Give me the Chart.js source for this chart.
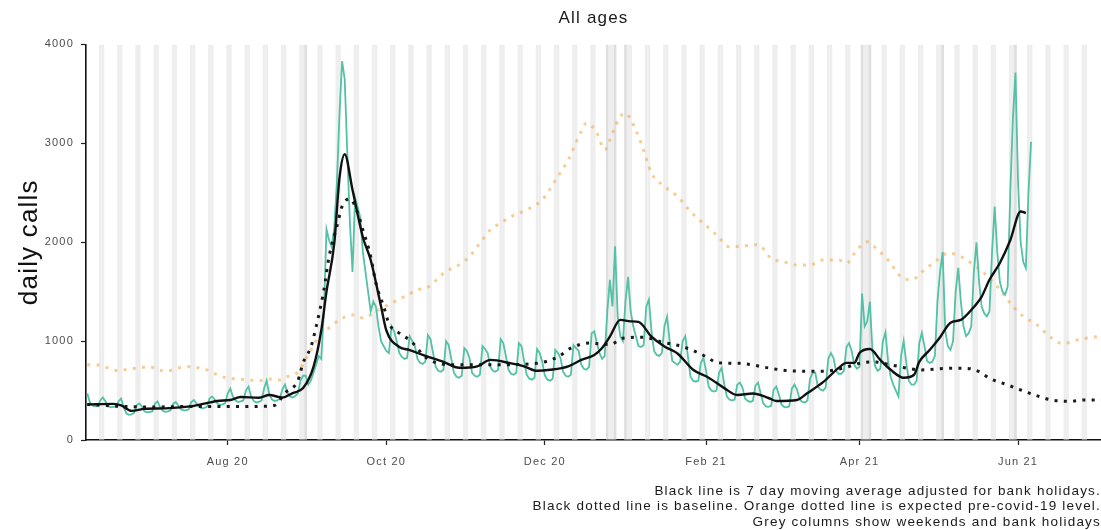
<!DOCTYPE html>
<html>
<head>
<meta charset="utf-8">
<title>All ages - daily calls</title>
<script src="https://cdn.jsdelivr.net/npm/chart.js@4.4.1/dist/chart.umd.min.js"></script>
<style>
    html, body { margin: 0; padding: 0; background: #fff; }
    #wrap { width: 1101px; height: 530px; }
</style>
</head>
<body>
<div id="wrap"><canvas id="callsChart" width="1101" height="530"></canvas></div>
<script>
// day 0 = Monday 8 June 2020, x axis counts days from there
const startDate = '2020-06-08';
const lastDay = 389.9;

const tickDates = ['2020-08-01', '2020-10-01', '2020-12-01', '2021-02-01', '2021-04-01', '2021-06-01'];
const tickLabels = ['Aug 20', 'Oct 20', 'Dec 20', 'Feb 21', 'Apr 21', 'Jun 21'];
const yTicks = [0, 1000, 2000, 3000, 4000];

const bankHolidays = ['2020-08-31', '2020-12-25', '2020-12-28', '2021-01-01',
                      '2021-04-02', '2021-04-05', '2021-05-03', '2021-05-31'];

// daily calls, one row per week (Mon .. Sun)
const dailyCalls = [
    [470, 380, 350, 340, 345, 400, 430],      // 8 Jun
    [390, 345, 330, 335, 340, 390, 420],
    [330, 270, 255, 260, 275, 350, 370],
    [340, 290, 280, 285, 290, 370, 390],
    [330, 295, 285, 290, 300, 365, 385],      // 6 Jul
    [350, 310, 300, 300, 310, 385, 405],
    [370, 335, 320, 325, 335, 420, 440],
    [410, 370, 355, 360, 370, 470, 520],
    [440, 400, 385, 390, 400, 500, 540],      // 3 Aug
    [440, 395, 380, 385, 400, 520, 600],
    [460, 410, 395, 400, 415, 510, 560],
    [480, 440, 430, 445, 470, 600, 650],
    [650, 560, 600, 680, 760, 850, 820],      // 31 Aug
    [1300, 2130, 2020, 1950, 2150, 2600, 3300],
    [3830, 3650, 2900, 2200, 1700, 2450, 2350],
    [2250, 1900, 1700, 1500, 1300, 1400, 1350],
    [1150, 1000, 950, 900, 880, 1150, 1100],  // 28 Sep
    [1000, 880, 840, 820, 830, 1050, 1000],
    [950, 820, 780, 770, 790, 1060, 1020],
    [880, 740, 700, 690, 710, 1000, 960],
    [820, 680, 640, 630, 650, 930, 900],      // 26 Oct
    [830, 680, 650, 640, 660, 950, 920],
    [880, 740, 700, 690, 710, 1020, 980],
    [850, 710, 670, 660, 680, 980, 950],
    [800, 660, 620, 610, 630, 920, 880],
    [790, 650, 610, 600, 620, 910, 880],      // 30 Nov
    [830, 690, 650, 640, 660, 960, 930],
    [900, 760, 720, 710, 740, 1080, 1100],
    [980, 880, 820, 850, 1300, 1620, 1350],
    [1960, 1250, 1050, 1000, 1400, 1650, 1300], // 28 Dec
    [1150, 1050, 950, 940, 960, 1350, 1420],
    [1100, 900, 860, 850, 880, 1150, 1245],
    [1000, 800, 780, 760, 790, 1000, 1050],
    [850, 640, 600, 590, 600, 780, 830],
    [700, 540, 500, 490, 500, 680, 730],      // 1 Feb
    [560, 440, 410, 400, 410, 560, 580],
    [530, 420, 395, 385, 395, 550, 580],
    [470, 370, 340, 335, 345, 510, 540],
    [460, 360, 335, 330, 340, 520, 560],      // 1 Mar
    [510, 410, 385, 380, 400, 620, 680],
    [680, 540, 510, 500, 530, 820, 880],
    [830, 700, 670, 670, 700, 940, 980],
    [900, 760, 720, 740, 1480, 1150, 1200],   // 29 Mar
    [1400, 900, 750, 700, 720, 1000, 1090],
    [800, 640, 560, 500, 440, 850, 1000],
    [780, 600, 560, 560, 600, 980, 1083],
    [950, 800, 780, 790, 850, 1400, 1700],
    [1900, 1100, 950, 911, 1000, 1500, 1740], // 3 May
    [1400, 1150, 1050, 1080, 1150, 1700, 2000],
    [1600, 1350, 1280, 1250, 1300, 1900, 2360],
    [1900, 1600, 1500, 1470, 1550, 2500, 3240],
    [3715, 2600, 2000, 1800, 1740, 2500, 3016]  // 31 May
];

// 7 day moving average (black line)
const avgDays = [0, 10, 13, 17, 22, 30, 41, 50, 55, 59, 66, 70, 75, 79, 83, 87, 90, 92, 95, 97,
                 99, 102, 106, 109, 113, 115, 120, 124, 129, 137, 143, 150, 155, 163, 168, 173, 178, 185, 190, 195,
                 198, 201, 205, 209, 212, 217, 222, 227, 233, 239, 245, 250, 256, 262, 265, 273, 277, 283, 289, 292,
                 295, 297, 301, 305, 309, 314, 318, 320, 324, 328, 332, 336, 340, 344, 347, 351, 355, 359, 361];
const avgValues = [360, 365, 350, 295, 315, 320, 345, 395, 405, 435, 427, 455, 430, 475, 525, 740, 1110, 1500, 1990, 2650,
                   2890, 2530, 2050, 1820, 1350, 1110, 940, 910, 860, 790, 730, 745, 810, 775, 745, 700, 710, 745, 810, 860,
                   930, 1045, 1215, 1200, 1195, 1045, 945, 875, 710, 630, 525, 455, 470, 425, 395, 405, 475, 585, 730, 780,
                   780, 880, 920, 810, 710, 630, 660, 790, 910, 1040, 1185, 1215, 1315, 1450, 1620, 1790, 2020, 2310, 2295];

// baseline (black dotted)
const baseDays = [0, 13, 25, 40, 53, 65, 72, 76, 81, 83, 86, 88, 91, 93, 96, 98, 101, 104, 106, 109,
                  111, 114, 116, 120, 124, 131, 141, 156, 173, 181, 186, 193, 201, 206, 214, 221, 229, 236, 243, 251,
                  262, 270, 283, 291, 297, 303, 309, 321, 331, 338, 343, 347, 354, 359, 365, 371, 378, 384, 390];
const baseValues = [360, 340, 334, 340, 340, 340, 350, 475, 600, 780, 940, 1144, 1518, 1855, 2160, 2362, 2440, 2295, 2125, 1855,
                    1586, 1350, 1180, 1080, 1010, 820, 760, 760, 776, 840, 929, 980, 965, 1030, 1040, 990, 944, 870, 780, 775,
                    729, 700, 695, 729, 775, 790, 760, 709, 725, 725, 692, 625, 557, 506, 450, 405, 392, 405, 405];

// expected pre-covid-19 level (orange dotted)
const expDays = [0, 4, 8, 12, 16, 20, 24, 27, 31, 35, 39, 43, 47, 50, 54, 58, 62, 66, 70, 74,
                 77, 81, 86, 89, 92, 97, 102, 106, 112, 117, 122, 127, 131, 137, 144, 147, 151, 155, 159, 163,
                 169, 175, 181, 185, 190, 192, 196, 199, 202, 205, 207, 209, 213, 217, 222, 227, 232, 237, 242, 247,
                 252, 258, 263, 268, 273, 278, 283, 289, 292, 296, 300, 304, 308, 313, 317, 322, 327, 331, 336, 340,
                 345, 350, 355, 360, 365, 370, 375, 382, 390];
const expValues = [760, 759, 729, 700, 720, 729, 742, 709, 700, 729, 742, 729, 700, 658, 627, 617, 607, 600, 617, 607,
                   640, 690, 911, 1043, 1113, 1215, 1265, 1235, 1316, 1384, 1451, 1518, 1545, 1687, 1788, 1855, 1990, 2125, 2193, 2260,
                   2328, 2430, 2665, 2834, 3120, 3205, 3104, 2935, 3104, 3270, 3305, 3240, 3003, 2700, 2565, 2463, 2310, 2190, 2075, 1955,
                   1960, 1975, 1838, 1800, 1770, 1770, 1820, 1820, 1788, 1923, 2004, 1923, 1820, 1650, 1620, 1720, 1822, 1890, 1855, 1788,
                   1687, 1552, 1384, 1250, 1170, 1050, 975, 1020, 1050];

const footnote = [
    'Black line is 7 day moving average adjusted for bank holidays.',
    'Black dotted line is baseline. Orange dotted line is expected pre-covid-19 level.',
    'Grey columns show weekends and bank holidays'
];

document.addEventListener("DOMContentLoaded", function () {

    const dayMs = 86400000;
    const t0 = Date.parse(startDate);
    const dayIndex = s => Math.round((Date.parse(s) - t0) / dayMs);

    const tickDays = tickDates.map(dayIndex);
    const holidayDays = bankHolidays.map(dayIndex);

    // grey columns: every saturday / sunday plus bank holidays
    const columnDays = holidayDays.slice();
    for (let d = 0; d <= Math.floor(lastDay); d++) {
        const wd = new Date(t0 + d * dayMs).getUTCDay();
        if (wd === 0 || wd === 6) columnDays.push(d);
    }
    columnDays.sort((a, b) => a - b);

    const pts = (xs, ys) => xs.map((x, i) => ({ x: x, y: ys[i] }));
    const daily = dailyCalls.flat().map((v, i) => ({ x: i, y: v }));

    Chart.defaults.font.family = "'Liberation Sans', Arial, sans-serif";

    // the original text is a bit wider than Arial, widen it slightly
    const wideText = {
        id: 'wideText',
        beforeDraw(chart) {
            chart.ctx.letterSpacing = '1.2px';
        }
    };

    const tickGrid = {
        offset: false,
        drawOnChartArea: false,
        drawTicks: true,
        tickLength: 5,
        tickColor: '#222',
        tickWidth: 1.2
    };

    const ctx = document.getElementById("callsChart").getContext("2d");

    new Chart(ctx, {
        type: 'line',
        data: {
            datasets: [
                {
                    label: '7 day average',
                    data: pts(avgDays, avgValues),
                    borderColor: '#111111',
                    borderWidth: 2.4,
                    pointRadius: 0,
                    cubicInterpolationMode: 'monotone',
                    order: 0
                },
                {
                    label: 'baseline',
                    data: pts(baseDays, baseValues),
                    borderColor: '#1a1a1a',
                    borderWidth: 3,
                    borderDash: [3, 6.3],
                    pointRadius: 0,
                    cubicInterpolationMode: 'monotone',
                    order: 1
                },
                {
                    label: 'daily calls',
                    data: daily,
                    borderColor: '#52c1a5',
                    borderWidth: 1.8,
                    pointRadius: 0,
                    tension: 0,
                    order: 2
                },
                {
                    label: 'expected',
                    data: pts(expDays, expValues),
                    borderColor: 'rgba(240, 172, 80, 0.6)',
                    borderWidth: 3,
                    borderDash: [3, 6.3],
                    pointRadius: 0,
                    cubicInterpolationMode: 'monotone',
                    order: 3
                },
                {
                    type: 'bar',
                    label: 'weekends and bank holidays',
                    data: columnDays.map(d => ({ x: d, y: yTicks[yTicks.length - 1] })),
                    backgroundColor: c => holidayDays.includes(c.raw.x) ? '#dedede' : '#eeeeee',
                    borderWidth: 0,
                    barPercentage: 1.04,
                    categoryPercentage: 1,
                    grouped: false,
                    order: 9
                }
            ]
        },
        options: {
            responsive: false,
            animation: false,
            layout: { padding: 0 },
            scales: {
                x: {
                    type: 'linear',
                    min: -0.5,
                    max: lastDay,
                    offset: false,
                    afterBuildTicks: scale => {
                        scale.ticks = tickDays.map(v => ({ value: v }));
                    },
                    afterFit: scale => { scale.height = 43.4; },
                    ticks: {
                        autoSkip: false,
                        maxRotation: 0,
                        padding: 10,
                        color: '#4d4d4d',
                        font: { size: 11 },
                        callback: (v, i) => tickLabels[i]
                    },
                    grid: tickGrid,
                    border: { display: true, color: '#111', width: 1.6 }
                },
                y: {
                    min: yTicks[0],
                    max: yTicks[yTicks.length - 1],
                    afterBuildTicks: scale => {
                        scale.ticks = yTicks.map(v => ({ value: v }));
                    },
                    afterFit: scale => { scale.width = 86; },
                    ticks: {
                        padding: 7,
                        color: '#4d4d4d',
                        font: { size: 11 },
                        callback: v => String(v)
                    },
                    grid: tickGrid,
                    border: { display: true, color: '#111', width: 1.6 },
                    title: {
                        display: true,
                        text: 'daily calls',
                        color: '#111',
                        font: { size: 26 },
                        padding: { top: 14, bottom: 0 }
                    }
                }
            },
            plugins: {
                legend: { display: false },
                tooltip: { enabled: false },
                title: {
                    display: true,
                    fullSize: false,
                    text: 'All ages',
                    color: '#1a1a1a',
                    font: { size: 17, weight: 'normal' },
                    padding: { top: 8, bottom: 16 }
                },
                subtitle: {
                    display: true,
                    position: 'bottom',
                    align: 'end',
                    text: footnote,
                    color: '#1a1a1a',
                    font: { size: 13.5, weight: 'normal', lineHeight: 1.15 },
                    padding: 0
                }
            }
        },
        plugins: [wideText]
    });
});
</script>
</body>
</html>
